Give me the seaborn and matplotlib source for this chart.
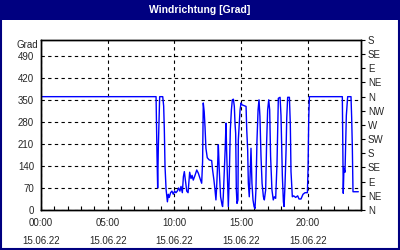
import matplotlib
matplotlib.use("Agg")
import matplotlib.pyplot as plt
import matplotlib.patches as mpatches
import seaborn as sns
import pandas as pd

# ---- data ----
hours = [0.0, 8.63, 8.7, 8.75, 8.8, 8.9, 9.13, 9.2, 9.25, 9.3, 9.38, 9.48, 9.55, 9.62,
         9.72, 9.82, 9.92, 10.02, 10.12, 10.22, 10.32, 10.42, 10.5, 10.6, 10.68, 10.75,
         10.83, 10.93, 11.03, 11.15, 11.25, 11.33, 11.42, 11.55, 11.68, 11.8, 11.92, 12.05,
         12.12, 12.17, 12.24, 12.3, 12.37, 12.47, 12.62, 12.8, 12.87, 12.97, 13.05, 13.12,
         13.17, 13.25, 13.3, 13.37, 13.47, 13.58, 13.62, 13.67, 13.75, 13.82, 13.875, 13.92,
         14.0, 14.05, 14.12, 14.2, 14.28, 14.35, 14.43, 14.5, 14.55, 14.6, 14.65, 14.7,
         14.77, 14.8, 14.93, 15.0, 15.08, 15.38, 15.43, 15.5, 15.55, 15.62, 15.68, 15.75,
         15.82, 15.9, 15.98, 16.05, 16.12, 16.2, 16.28, 16.35, 16.42, 16.5, 16.58, 16.68,
         16.75, 16.85, 16.92, 17.0, 17.08, 17.15, 17.22, 17.32, 17.42, 17.5, 17.6, 17.7,
         17.8, 17.93, 18.0, 18.05, 18.1, 18.18, 18.23, 18.3, 18.38, 18.43, 18.5, 18.63,
         18.7, 18.75, 18.85, 18.95, 19.1, 19.25, 19.35, 19.5, 19.65, 19.8, 19.98, 20.03,
         20.08, 20.13, 22.6, 22.67, 22.72, 22.8, 22.9, 23.0, 23.25, 23.3, 23.35, 23.4, 23.8]
direction = [360, 360, 175, 70, 200, 360, 360, 330, 255, 140, 66, 26, 50, 40,
             55, 60, 50, 60, 55, 60, 70, 60, 75, 55, 106, 122,
             95, 60, 55, 120, 100, 110, 95, 110, 127, 117, 101, 85,
             154, 340, 312, 265, 196, 166, 159, 157, 127, 95, 64, 32,
             69, 148, 207, 127, 42, 16, 11, 42, 127, 201, 276, 191,
             74, 11, 106, 255, 318, 350, 352, 329, 276, 244, 64, 21,
             32, 223, 318, 340, 334, 329, 255, 191, 85, 42, 106, 196,
             85, 32, 11, 5, 64, 223, 318, 350, 297, 170, 85, 42,
             32, 64, 212, 318, 350, 318, 170, 64, 32, 42, 37, 147,
             355, 358, 300, 200, 110, 26, 11, 80, 190, 292, 358, 358,
             270, 122, 42, 45, 40, 45, 35, 35, 50, 55, 55, 133,
             292, 360, 360, 53, 133, 120, 300, 360, 360, 293, 200, 58, 58]

left_ticks = [0, 70, 140, 210, 280, 350, 420, 490]
right_ticks = [0, 45, 90, 135, 180, 225, 270, 315, 360, 405, 450, 495, 540]
right_labels = ["N", "NE", "E", "SE", "S", "SW", "W", "NW", "N", "NE", "E", "SE", "S"]
x_ticks = [0, 5, 10, 15, 20]
x_labels = ["00:00\n15.06.22", "05:00\n15.06.22", "10:00\n15.06.22",
            "15:00\n15.06.22", "20:00\n15.06.22"]
title = "Windrichtung [Grad]"

df = pd.DataFrame({"hour": hours, "dir": direction})

sns.set_style("white")
plt.rcParams["font.family"] = ["Liberation Sans", "DejaVu Sans"]

navy = "#000080"
fig = plt.figure(figsize=(4, 2.5), dpi=100)
fig.patch.set_facecolor("white")

# title bar and frame
fig.add_artist(mpatches.Rectangle((0, 0.92), 1, 0.08, transform=fig.transFigure,
                                  facecolor=navy, edgecolor="none", zorder=0))
fig.add_artist(mpatches.Rectangle((0.0025, 0.004), 0.995, 0.992, transform=fig.transFigure,
                                  facecolor="none", edgecolor=navy, linewidth=1.5, zorder=5))
fig.text(0.5, 0.96, title, color="white", fontsize=7.5, fontweight="bold",
         ha="center", va="center")

ax = fig.add_axes([0.1025, 0.16, 0.8, 0.68])
sns.lineplot(data=df, x="hour", y="dir", ax=ax, color="#0000ff", linewidth=1.0,
             estimator=None, sort=False)
ax.set_xlim(0, 24)
ax.set_ylim(0, 540)
ax.set_xlabel("")
ax.set_ylabel("")

ax.set_yticks(left_ticks)
ax.set_yticklabels([str(v) for v in left_ticks], fontsize=7)
ax.tick_params(axis="y", which="both", length=0, pad=5)
ax.set_xticks(x_ticks)
ax.set_xticklabels(x_labels, fontsize=7, linespacing=1.9)
ax.set_xticks(range(0, 25), minor=True)
ax.tick_params(axis="x", which="both", direction="in", length=3, width=0.8,
               color="black", pad=6, bottom=True, top=False)

ax.grid(True, color="black", linestyle=(0, (3, 3)), linewidth=0.8)
for s in ax.spines.values():
    s.set_visible(True)
    s.set_color("black")
    s.set_linewidth(1.0)

ax.text(-0.01, 525, "Grad", transform=ax.get_yaxis_transform(), ha="right",
        va="center", fontsize=7)

ax2 = ax.twinx()
ax2.set_ylim(0, 540)
ax2.set_yticks(right_ticks)
ax2.set_yticklabels(right_labels, fontsize=7)
ax2.tick_params(axis="y", direction="out", length=3, width=0.8, color="black", pad=2)
ax2.set_ylabel("")
for s in ax2.spines.values():
    s.set_color("black")
    s.set_linewidth(1.0)

fig.savefig("out.png", dpi=100)
